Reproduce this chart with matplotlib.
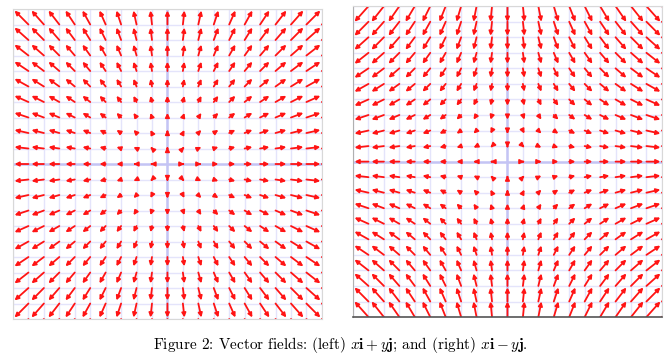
import numpy as np
import matplotlib
matplotlib.use("Agg")
import matplotlib.pyplot as plt
from matplotlib.patches import FancyArrowPatch

plt.rcParams['mathtext.fontset'] = 'cm'
plt.rcParams['font.family'] = ['cmr10', 'DejaVu Serif']
plt.rcParams['axes.formatter.use_mathtext'] = True

# grid of sample points, -10..10 in each direction
xs = np.arange(-10, 11)
ys = np.arange(-10, 11)
X, Y = np.meshgrid(xs, ys)

# the two fields: x i + y j  and  x i - y j
U_left, V_left = X, Y
U_right, V_right = X, -Y
arrow_scale = 0.1

caption = r"Figure 2: Vector fields: (left) $x\mathbf{i}+y\mathbf{j}$; and (right) $x\mathbf{i}-y\mathbf{j}$."

fig = plt.figure(figsize=(6.7, 3.64), dpi=100)
ax1 = fig.add_axes([0.0194, 0.1236, 0.461, 0.8516])
ax2 = fig.add_axes([0.5269, 0.129, 0.461, 0.854])


def draw_field(ax, U, V):
    ax.set_xlim(-10, 10)
    ax.set_ylim(-10, 10)
    for v in xs:
        ax.axvline(v, color='#e4e4fb', lw=1.0, zorder=0)
    for v in ys:
        ax.axhline(v, color='#e4e4fb', lw=1.0, zorder=0)
    ax.axvline(0, color='#c4c4f4', lw=1.8, zorder=0)
    ax.axhline(0, color='#c4c4f4', lw=1.8, zorder=0)
    for x0, y0, u, v in zip(X.ravel(), Y.ravel(), U.ravel(), V.ravel()):
        if u == 0 and v == 0:
            continue
        arr = FancyArrowPatch((x0, y0), (x0 + arrow_scale * u, y0 + arrow_scale * v),
                              arrowstyle='-|>', color='#ff1414', lw=1.3,
                              mutation_scale=6, shrinkA=0, shrinkB=0, zorder=2)
        ax.add_patch(arr)
    ax.set_xticks([])
    ax.set_yticks([])
    for s in ax.spines.values():
        s.set_color('#d8d8d8')
        s.set_linewidth(0.8)


draw_field(ax1, U_left, V_left)
draw_field(ax2, U_right, V_right)
ax2.spines['bottom'].set_color('#555555')
ax2.spines['bottom'].set_linewidth(1.2)
ax2.spines['left'].set_color('#b0b0b0')

fig.text(0.508, 0.052, caption, ha='center', va='center', fontsize=11)

fig.savefig("out.png", dpi=100)
